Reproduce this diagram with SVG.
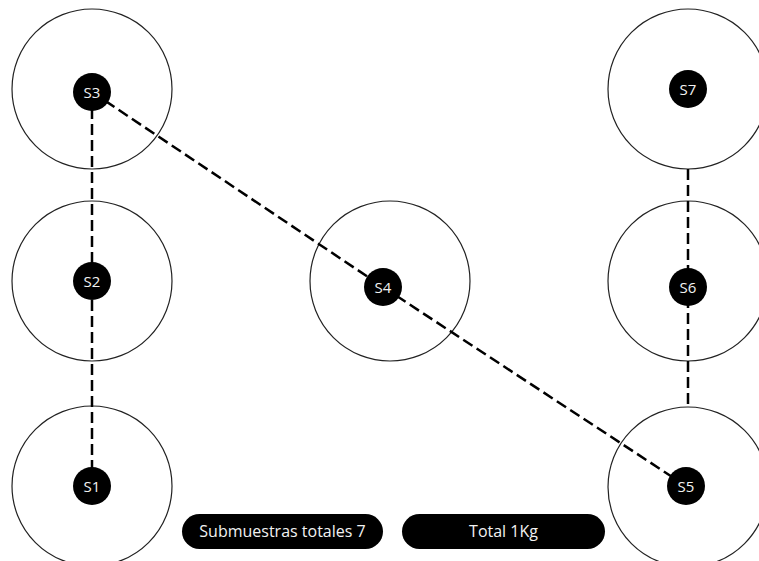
<svg xmlns="http://www.w3.org/2000/svg" width="759" height="561" viewBox="0 0 759 561">
<style>
.zone{fill:none;stroke:#222;stroke-width:1.2}
.dot{fill:#000}
.lbl{fill:#f2f2f2;font-family:"Open Sans","Noto Sans",sans-serif;font-size:15px;text-anchor:middle;dominant-baseline:central}
.link{stroke:#000;stroke-width:2.5;stroke-dasharray:11 5;fill:none}
.pill{fill:#000}
.ptxt{fill:#f2f2f2;font-family:"Open Sans","Noto Sans",sans-serif;font-size:16px;text-anchor:middle;dominant-baseline:central}
</style>
<rect width="759" height="561" fill="#fff"/>
<g id="zones">
<circle class="zone" cx="92" cy="89" r="80"/>
<circle class="zone" cx="92" cy="281" r="80"/>
<circle class="zone" cx="92" cy="486" r="80"/>
<circle class="zone" cx="390" cy="281" r="80"/>
<circle class="zone" cx="688" cy="89" r="80"/>
<circle class="zone" cx="688" cy="281" r="80"/>
<circle class="zone" cx="688" cy="487" r="80"/>
</g>
<g id="connectors">
<line class="link" x1="92" y1="92" x2="92" y2="486"/>
<line class="link" x1="92" y1="92" x2="383" y2="287"/>
<line class="link" x1="383" y1="287" x2="686" y2="486"/>
<line class="link" x1="688" y1="169" x2="688" y2="407"/>
</g>
<g id="S3"><circle class="dot" cx="92" cy="92" r="19"/><text class="lbl" x="92" y="92">S3</text></g>
<g id="S2"><circle class="dot" cx="92" cy="281" r="19"/><text class="lbl" x="92" y="281">S2</text></g>
<g id="S1"><circle class="dot" cx="92" cy="486" r="19"/><text class="lbl" x="92" y="486">S1</text></g>
<g id="S4"><circle class="dot" cx="383" cy="287" r="19"/><text class="lbl" x="383" y="287">S4</text></g>
<g id="S7"><circle class="dot" cx="688" cy="89" r="19"/><text class="lbl" x="688" y="89">S7</text></g>
<g id="S6"><circle class="dot" cx="688" cy="287" r="19"/><text class="lbl" x="688" y="287">S6</text></g>
<g id="S5"><circle class="dot" cx="686" cy="486" r="19"/><text class="lbl" x="686" y="486">S5</text></g>
<g id="total-submuestras"><rect class="pill" x="182" y="514" width="201" height="35" rx="17.5"/><text class="ptxt" x="282.5" y="531">Submuestras totales 7</text></g>
<g id="total-peso"><rect class="pill" x="402" y="514" width="203" height="35" rx="17.5"/><text class="ptxt" x="503.5" y="531">Total 1Kg</text></g>
</svg>
